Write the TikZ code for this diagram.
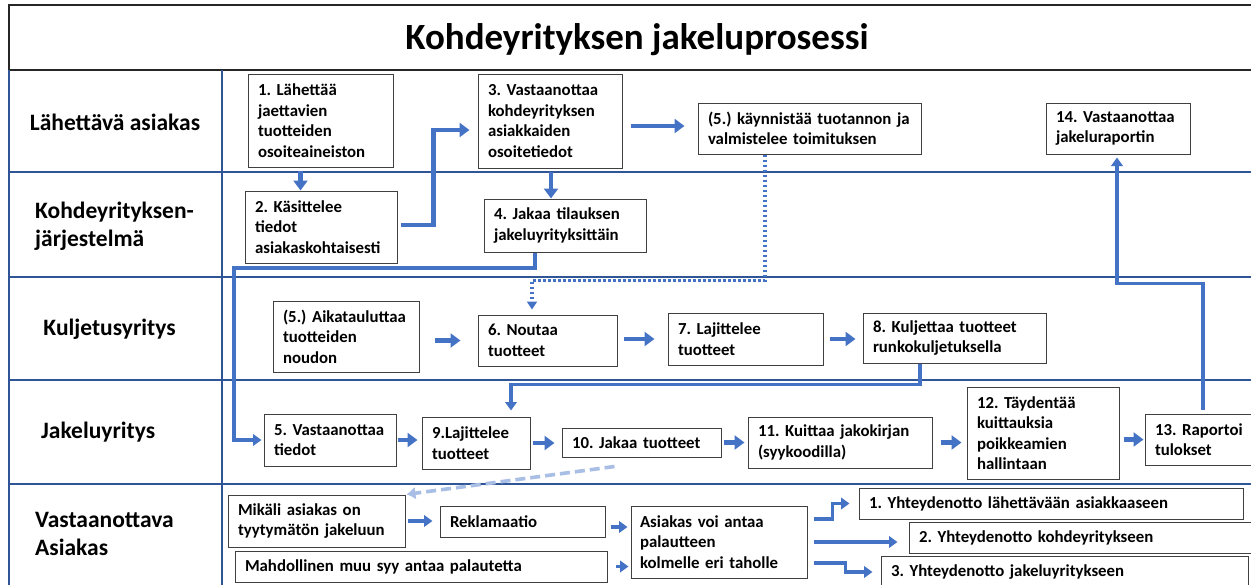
\documentclass[tikz,border=0pt]{standalone}
\usepackage{fontspec}
\setmainfont{Carlito}
\usetikzlibrary{arrows.meta,calc}
\definecolor{flowblue}{HTML}{4472C4}
\definecolor{laneblue}{HTML}{2F5597}
\definecolor{fadeblue}{HTML}{A9BEE4}
\definecolor{boxline}{HTML}{404040}
\begin{document}
\begin{tikzpicture}[x=1pt,y=-1pt,
  stepbox/.style={draw=boxline, line width=1pt, fill=white, inner sep=0pt,
    align=left, font=\bfseries\fontsize{16.8}{20.5}\selectfont},
  lanelabel/.style={font=\bfseries\fontsize{23.5}{28}\selectfont, align=left, inner sep=0pt},
  laneline/.style={draw=laneblue, line width=1.5pt},
  flow/.style={draw=flowblue, line width=4.2pt, -{Triangle[length=10pt,width=14pt]}},
  flowthin/.style={draw=flowblue, line width=3.6pt, -{Triangle[length=8.5pt,width=11.5pt]}},
  dotflow/.style={draw=flowblue, line width=3.2pt, dash pattern=on 2.6pt off 2.4pt,
    -{Triangle[length=8pt,width=10pt]}},
  fadeflow/.style={draw=fadeblue, line width=3.6pt, dash pattern=on 10pt off 5pt,
    -{Latex[length=9pt,width=13pt]}},
]
\clip (0,0) rectangle (1251,584);
\fill[white] (0,0) rectangle (1251,584);

% title band
\draw[draw=black!85, line width=1.6pt] (9,5) rectangle (1262,70);
\node[font=\bfseries\fontsize{37}{40}\selectfont] (title) at (637,40) {Kohdeyrityksen jakeluprosessi};

% swimlane grid
\draw[laneline] (9,70) -- (9,590);
\draw[laneline] (222,70) -- (222,590);
\foreach \yy in {172,277,380,484}
  \draw[laneline] (9,\yy) -- (1262,\yy);

% lane titles
\node[lanelabel] (l1) at (115,122) {Lähettävä asiakas};
\node[lanelabel, anchor=west] (l2) at (35,226) {Kohdeyrityksen-\\järjestelmä};
\node[lanelabel] (l3) at (109.5,329) {Kuljetusyritys};
\node[lanelabel, anchor=west] (l4) at (41,432) {Jakeluyritys};
\node[lanelabel, anchor=west] (l5) at (35,534) {Vastaanottava\\Asiakas};

% sending customer
\node[stepbox, minimum width=145pt, minimum height=93pt, text width=125pt] (b1) at (320.5,120.5)
  {1.~Lähettää\\jaettavien\\tuotteiden\\osoiteaineiston};
\node[stepbox, minimum width=144pt, minimum height=94pt, text width=124pt] (b3) at (550,121)
  {3.~Vastaanottaa\\kohdeyrityksen\\asiakkaiden\\osoitetiedot};
\node[stepbox, minimum width=223pt, minimum height=51pt, text width=203pt] (b5a) at (809.5,128.5)
  {(5.)~käynnistää~tuotannon~ja\\valmistelee~toimituksen};
\node[stepbox, minimum width=144pt, minimum height=51pt, text width=124pt] (b14) at (1118,128.5)
  {14.~Vastaanottaa\\jakeluraportin};

% target company system
\node[stepbox, minimum width=152pt, minimum height=72pt, text width=132pt] (b2) at (321,227)
  {2.~Käsittelee\\tiedot\\asiakaskohtaisesti};
\node[stepbox, minimum width=162pt, minimum height=53pt, text width=142pt] (b4) at (565,225.5)
  {4.~Jakaa~tilauksen\\jakeluyrityksittäin};

% transport company
\node[stepbox, minimum width=146pt, minimum height=71pt, text width=126pt] (b5b) at (346,336.5)
  {(5.)~Aikatauluttaa\\tuotteiden\\noudon};
\node[stepbox, minimum width=139pt, minimum height=51pt, text width=119pt] (b6) at (547.5,340.5)
  {6.~Noutaa\\tuotteet};
\node[stepbox, minimum width=155pt, minimum height=52pt, text width=135pt] (b7) at (745.5,339)
  {7.~Lajittelee\\tuotteet};
\node[stepbox, minimum width=183pt, minimum height=50pt, text width=163pt] (b8) at (954.5,338)
  {8.~Kuljettaa~tuotteet\\runkokuljetuksella};

% distribution company
\node[stepbox, minimum width=132pt, minimum height=52pt, text width=112pt] (b5c) at (330,440)
  {5.~Vastaanottaa\\tiedot};
\node[stepbox, minimum width=108pt, minimum height=52pt, text width=88pt] (b9) at (476,443)
  {9.Lajittelee\\tuotteet};
\node[stepbox, minimum width=159pt, minimum height=29pt, text width=139pt] (b10) at (641.5,442.5)
  {10.~Jakaa~tuotteet};
\node[stepbox, minimum width=184pt, minimum height=51pt, text width=164pt] (b11) at (840,442.5)
  {11.~Kuittaa~jakokirjan\\(syykoodilla)};
\node[stepbox, minimum width=152pt, minimum height=92pt, text width=132pt] (b12) at (1043,433)
  {12.~Täydentää\\kuittauksia\\poikkeamien\\hallintaan};
\node[stepbox, minimum width=113pt, minimum height=51pt, text width=93pt] (b13) at (1201.5,439.5)
  {13.~Raportoi\\tulokset};

% receiving customer
\node[stepbox, minimum width=177pt, minimum height=52pt, text width=157pt] (bm) at (316.5,521)
  {Mikäli~asiakas~on\\tyytymätön~jakeluun};
\node[stepbox, minimum width=165pt, minimum height=31pt, text width=145pt] (br) at (522.5,521.5)
  {Reklamaatio};
\node[stepbox, minimum width=372pt, minimum height=31pt, text width=352pt] (bmuu) at (421,566.5)
  {Mahdollinen~muu~syy~antaa~palautetta};
\node[stepbox, minimum width=176pt, minimum height=72pt, text width=158pt] (ba) at (719,542)
  {Asiakas~voi~antaa\\palautteen\\kolmelle~eri~taholle};
\node[stepbox, minimum width=384pt, minimum height=31pt, text width=364pt] (y1) at (1051,503.5)
  {1.~Yhteydenotto~lähettävään~asiakkaaseen};
\node[stepbox, minimum width=353pt, minimum height=31pt, text width=333pt] (y2) at (1085.5,537.5)
  {2.~Yhteydenotto~kohdeyritykseen};
\node[stepbox, minimum width=367pt, minimum height=32pt, text width=347pt] (y3) at (1064.5,572)
  {3.~Yhteydenotto~jakeluyritykseen};

% connectors: upper lanes
\draw[flow, shorten <=3pt] ([xshift=-20pt]b1.south) -- ([xshift=-20pt]b1.south |- b2.north);
\draw[flow, shorten <=3pt, shorten >=8pt] ([yshift=2pt]b2.east) -- ++(36,0) |- ([yshift=-9pt]b3.west);
\draw[flow, shorten <=8pt, shorten >=13pt] ([yshift=-5pt]b3.east) -- ([yshift=-5pt]b3.east -| b5a.west);
\draw[flow, shorten <=3pt] ([xshift=1pt]b3.south) -- ([xshift=1pt]b3.south |- b4.north);
\coordinate (bend4) at (234,268);
\draw[flowthin, shorten >=2pt] ([xshift=-30pt]b4.south) |- (bend4) |- (b5c.west);
\draw[dotflow, shorten >=5pt] ([xshift=-44.5pt]b5a.south) |- ([xshift=-15.5pt,yshift=34pt]b6.north)
  -- ([xshift=-15.5pt]b6.north);
\draw[flowthin, shorten <=4pt, shorten >=3pt] ([xshift=1.5pt]b13.north)
  |- ([xshift=-1pt,yshift=-129pt]b14.south) -- ([xshift=-1pt]b14.south);

% connectors: transport lane
\draw[flow, shorten <=15pt, shorten >=17pt] (b5b.east |- b6.west) -- (b6.west);
\draw[flow, shorten <=6pt, shorten >=13pt] (b6.east |- b7.west) -- (b7.west);
\draw[flow, shorten <=6pt, shorten >=7pt] (b7.east) -- (b7.east -| b8.west);
\draw[flowthin, shorten >=6pt] ([xshift=-34.5pt]b8.south) |- ([xshift=35pt,yshift=32pt]b9.north)
  -- ([xshift=35pt]b9.north);

% connectors: distribution lane
\draw[flow, shorten <=1pt, shorten >=4pt] (b5c.east) -- (b5c.east -| b9.west);
\draw[flow, shorten <=2pt, shorten >=7pt] (b9.east) -- (b9.east -| b10.west);
\draw[flow, shorten <=2pt, shorten >=3pt] (b10.east) -- (b10.east -| b11.west);
\draw[flow, shorten <=8pt, shorten >=5pt] (b11.east) -- (b11.east -| b12.west);
\draw[flow, shorten <=4pt, shorten >=1pt] (b12.east |- b13.west) -- (b13.west);
\draw[fadeflow, shorten >=1pt] ([xshift=-27pt,yshift=-9pt]b10.south) -- (bm.north east);

% connectors: receiving customer lane
\draw[flowthin, shorten <=2pt, shorten >=7pt] (bm.east) -- (bm.east -| br.west);
\draw[flowthin, shorten <=5pt, shorten >=3pt] ([yshift=-5.5pt]br.east) -- ([yshift=-5.5pt]br.east -| ba.west);
\draw[flowthin, shorten <=8pt, shorten >=2pt] (bmuu.east) -- (bmuu.east -| ba.west);
\draw[flowthin, shorten <=6pt, shorten >=9pt] ([yshift=23pt]ba.east) -- ++(25,0) |- (y1.west);
\draw[flowthin, shorten <=6pt, shorten >=11pt] (ba.east) -- (ba.east -| y2.west);
\draw[flowthin, shorten <=6pt, shorten >=8pt] ([yshift=-21pt]ba.east) -- ++(38,0) |- (y3.west);
\end{tikzpicture}
\end{document}
